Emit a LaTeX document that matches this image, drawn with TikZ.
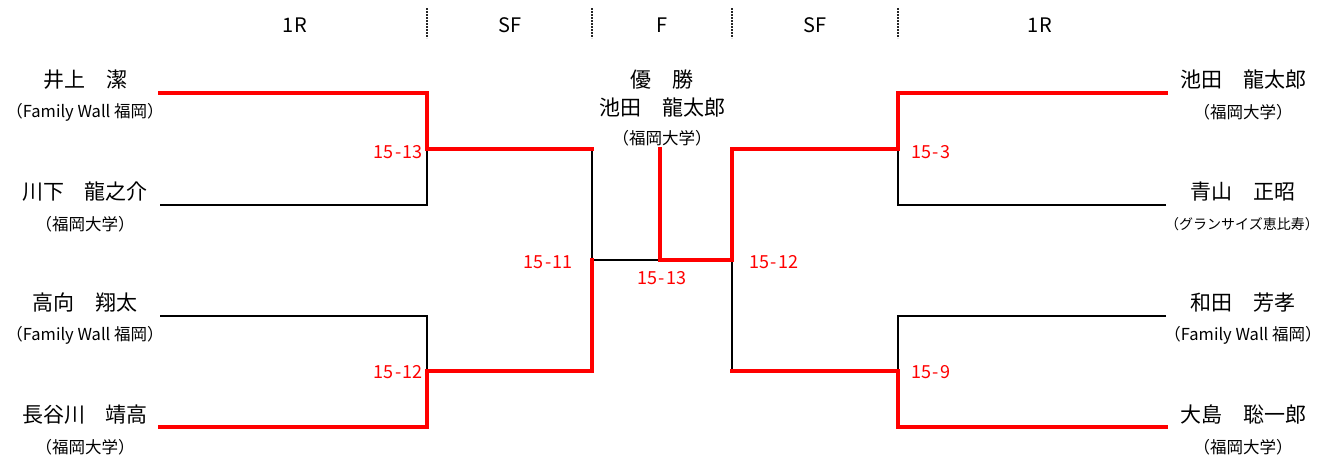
\documentclass[tikz,border=0pt]{standalone}
\usepackage{fontspec}
\setmainfont{Noto Sans CJK JP}
\definecolor{wred}{RGB}{255,0,0}
\newcommand\myscore[2]{#1\kern1.5pt-\kern1.5pt#2}
\begin{document}
\begin{tikzpicture}[x=1pt,y=-1pt,
  lose/.style={draw=black,line width=1.6pt},
  win/.style={draw=wred,line width=3.4pt,line join=miter,line cap=rect},
  sep/.style={draw=black!85,line width=2pt,dash pattern=on 2pt off 1pt},
  hdr/.style={font=\fontsize{20}{22}\selectfont},
  pname/.style={font=\fontsize{21}{23}\selectfont,inner sep=0pt},
  aff/.style={font=\fontsize{16.5}{18}\selectfont,inner sep=0pt},
  score/.style={font=\fontsize{18}{20}\selectfont,text=wred,inner sep=0pt}]
\useasboundingbox (0,0) rectangle (1328,455);
% header
\foreach \i/\x in {s1/427,s2/592,s3/732,s4/898}{
  \coordinate (\i t) at (\x,8); \coordinate (\i b) at (\x,38);
  \draw[sep] (\i t) -- (\i b);}
\node[hdr] (h1) at (295,25) {1\kern1pt R};
\node[hdr] (h2) at (510,25) {S\kern1pt F};
\node[hdr] (h3) at (662,25) {F};
\node[hdr] (h4) at (815,25) {S\kern1pt F};
\node[hdr] (h5) at (1040,25) {1\kern1pt R};
% coordinates
\coordinate (L1a) at (160,93);  \coordinate (L1b) at (427,93);
\coordinate (L2a) at (160,205); \coordinate (L2b) at (427,205);
\coordinate (L3a) at (160,316); \coordinate (L3b) at (427,316);
\coordinate (L4a) at (160,427); \coordinate (L4b) at (427,427);
\coordinate (LS1) at (427,149); \coordinate (LS1e) at (592,149);
\coordinate (LS2) at (427,371); \coordinate (LS2e) at (592,371);
\coordinate (LF) at (592,260); \coordinate (C) at (660,260);
\coordinate (CW) at (660,149); \coordinate (RF) at (732,260);
\coordinate (RS1) at (732,149); \coordinate (RS1e) at (898,149);
\coordinate (RS2) at (732,371); \coordinate (RS2e) at (898,371);
\coordinate (R1) at (898,93);  \coordinate (R1e) at (1166,93);
\coordinate (R2) at (898,205); \coordinate (R2e) at (1166,205);
\coordinate (R3) at (898,316); \coordinate (R3e) at (1166,316);
\coordinate (R4) at (898,427); \coordinate (R4e) at (1166,427);
% losing lines
\draw[lose] (L2a) -- (L2b) -- (LS1);
\draw[lose] (L3a) -- (L3b) -- (LS2);
\draw[lose] (LS1e) -- (LF) -- (C);
\draw[lose] (RF) -- (RS2);
\draw[lose] (R2e) -- (R2) -- (RS1e);
\draw[lose] (R3e) -- (R3) -- (RS2e);
% winning lines
\draw[win] (L1a) -- (L1b) -- (LS1) -- (LS1e);
\draw[win] (L4a) -- (L4b) -- (LS2) -- (LS2e) -- (LF);
\draw[win] (CW) -- (C) -- (RF) -- (RS1) -- (RS1e) -- (R1) -- (R1e);
\draw[win] (RS2) -- (RS2e) -- (R4) -- (R4e);
% left players
\node[pname] (p1) at (85,80) {井上　潔};
\node[aff] (a1) at (85,112) {（Family Wall 福岡）};
\node[pname] (p2) at (85,192) {川下　龍之介};
\node[aff] (a2) at (85,224) {（福岡大学）};
\node[pname] (p3) at (85,303) {高向　翔太};
\node[aff] (a3) at (85,335) {（Family Wall 福岡）};
\node[pname] (p4) at (85,415) {長谷川　靖高};
\node[aff] (a4) at (85,447) {（福岡大学）};
% right players
\node[pname] (p5) at (1243,80) {池田　龍太郎};
\node[aff] (a5) at (1243,112) {（福岡大学）};
\node[pname] (p6) at (1243,192) {青山　正昭};
\node[aff,font=\fontsize{14}{16}\selectfont] (a6) at (1242,224) {（グランサイズ恵比寿）};
\node[pname] (p7) at (1243,303) {和田　芳孝};
\node[aff] (a7) at (1243,335) {（Family Wall 福岡）};
\node[pname] (p8) at (1243,415) {大島　聡一郎};
\node[aff] (a8) at (1243,447) {（福岡大学）};
% champion
\node[pname] (ch) at (662,80) {優　勝};
\node[pname] (cn) at (662,108) {池田　龍太郎};
\node[aff] (ca) at (662,138) {（福岡大学）};
% scores
\node[score,anchor=east] (sc1) at (423,152) {\myscore{15}{13}};
\node[score,anchor=east] (sc2) at (423,372) {\myscore{15}{12}};
\node[score,anchor=east] (sc3) at (573,262) {\myscore{15}{11}};
\node[score] (sc4) at (662,278) {\myscore{15}{13}};
\node[score,anchor=west] (sc5) at (749,262) {\myscore{15}{12}};
\node[score,anchor=west] (sc6) at (911,152) {\myscore{15}{3}};
\node[score,anchor=west] (sc7) at (911,372) {\myscore{15}{9}};
\end{tikzpicture}
\end{document}
